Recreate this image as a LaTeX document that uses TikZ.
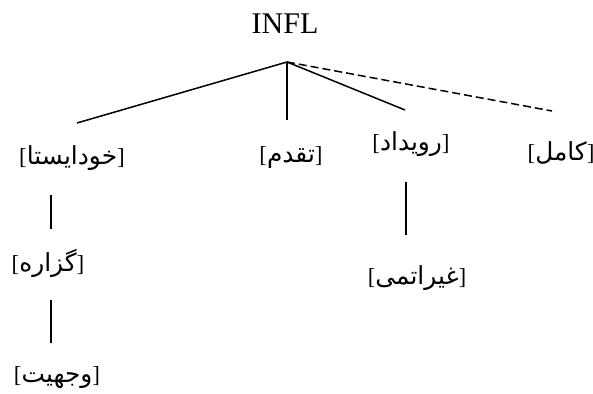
\documentclass[tikz,border=0pt]{standalone}
\usepackage{fontspec}
\setmainfont{Liberation Serif}
\newfontfamily\arabicfont[Script=Arabic,Scale=1.08]{DejaVu Sans}
\TeXXeTstate=1
\newcommand{\fa}[1]{{\fontsize{11.5pt}{13pt}\selectfont[{\arabicfont #1}]}}
\begin{document}
\begin{tikzpicture}[x=0.5pt,y=-0.5pt,
  lbl/.style={inner sep=0pt, anchor=center},
  branch/.style={line width=0.75pt, black},
  dbranch/.style={line width=0.75pt, black, dash pattern=on 4pt off 2pt}]
\useasboundingbox (0,0) rectangle (593,394);
\node[lbl, font=\fontsize{15pt}{17pt}\selectfont] (infl) at (285,24) {INFL};
\coordinate (apex) at (287,62);
\node[lbl] (khod) at (72,158) {\fa{خودایستا}};
\node[lbl] (tagh) at (291,158) {\fa{تقدم}};
\node[lbl] (rooy) at (411,144) {\fa{رویداد}};
\node[lbl] (kaml) at (561,153) {\fa{کامل}};
\node[lbl] (gozr) at (48,263) {\fa{گزاره}};
\node[lbl] (ghay) at (417,278) {\fa{غیراتمی}};
\node[lbl] (vajh) at (57,378) {\fa{وجهیت}};
\coordinate (e1) at (77,123);
\coordinate (e2) at (287,120);
\coordinate (e3) at (405,110);
\coordinate (e4) at (552,111);
\draw[branch] (apex) -- (e1);
\draw[branch] (apex) -- (e2);
\draw[branch] (apex) -- (e3);
\draw[dbranch] (apex) -- (e4);
\coordinate (k1) at (51,195);
\coordinate (k2) at (51,229);
\coordinate (g1) at (51,300);
\coordinate (g2) at (51,343);
\coordinate (r1) at (406,182);
\coordinate (r2) at (406,235);
\draw[branch] (k1) -- (k2);
\draw[branch] (g1) -- (g2);
\draw[branch] (r1) -- (r2);
\end{tikzpicture}
\end{document}
